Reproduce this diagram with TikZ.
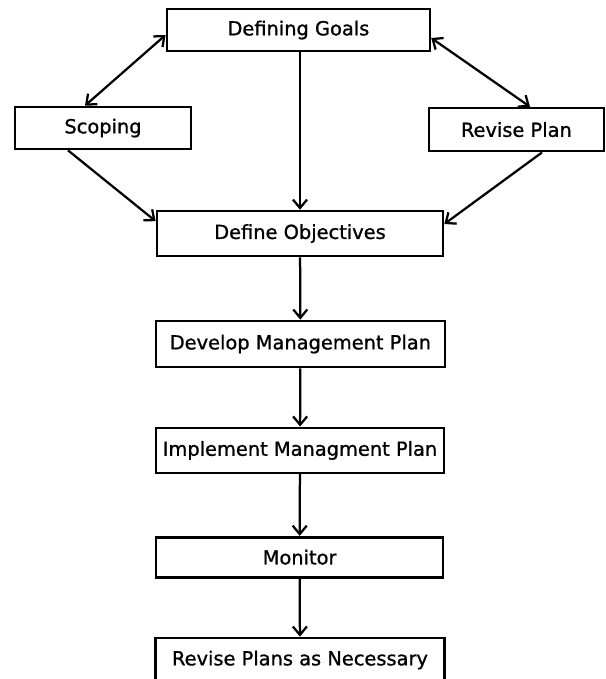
\documentclass[tikz,border=0pt]{standalone}
\usepackage{fontspec}
\setmainfont[FakeBold=1]{DejaVu Sans}
\usepackage{tikz}
\usetikzlibrary{arrows.meta,positioning,calc}

\begin{document}
\begin{tikzpicture}[
    >={Straight Barb[length=6pt,width=10pt]},
    stage/.style={rectangle, draw=black, line width=1.9pt, minimum height=1.1cm, inner sep=2pt, font=\fontsize{13.8}{17}\selectfont},
    link/.style={->, line width=1.6pt}
]
\clip (0,0) rectangle (15.125,-16.975);

% Stages
\node[stage, minimum width=6.575cm, minimum height=1.05cm] (goals) at (7.46,-0.75) {Defining Goals};
\node[stage, minimum width=4.4cm, minimum height=1.05cm] (scoping) at (2.575,-3.2) {Scoping};
\node[stage, minimum width=4.375cm, minimum height=1.075cm] (revise) at (12.91,-3.24) {Revise Plan};
\node[stage, minimum width=7.15cm, minimum height=1.125cm] (objectives) at (7.5,-5.84) {Define Objectives};
\node[stage, minimum width=7.225cm, minimum height=1.15cm] (develop) at (7.51,-8.6) {Develop Management Plan};
\node[stage, minimum width=7.2cm, minimum height=1.125cm] (implement) at (7.5,-11.26) {Implement Managment Plan};
\node[stage, minimum width=7.175cm, minimum height=1.0cm] (monitor) at (7.49,-13.93) {Monitor};
\node[stage, minimum width=7.225cm, minimum height=1.1cm] (plans) at (7.5,-16.5) {Revise Plans as Necessary};

% Links round the top
\draw[link, <->] ([yshift=-0.125cm]goals.west) -- ([xshift=-0.45cm]scoping.north);
\draw[link, <->] ([yshift=-0.2cm]goals.east) -- ([xshift=0.34cm]revise.north);
\draw[link] ([xshift=-0.875cm]scoping.south) -- ([yshift=0.31cm]objectives.west);
\draw[link] ([xshift=0.64cm]revise.south) -- ([yshift=0.24cm]objectives.east);
\draw[link] (goals.south -| objectives) -- (objectives.north);

% Main line
\draw[link] (objectives) -- (develop);
\draw[link] (develop) -- (implement);
\draw[link] (implement) -- (monitor);
\draw[link] (monitor) -- (plans);

\end{tikzpicture}
\end{document}
